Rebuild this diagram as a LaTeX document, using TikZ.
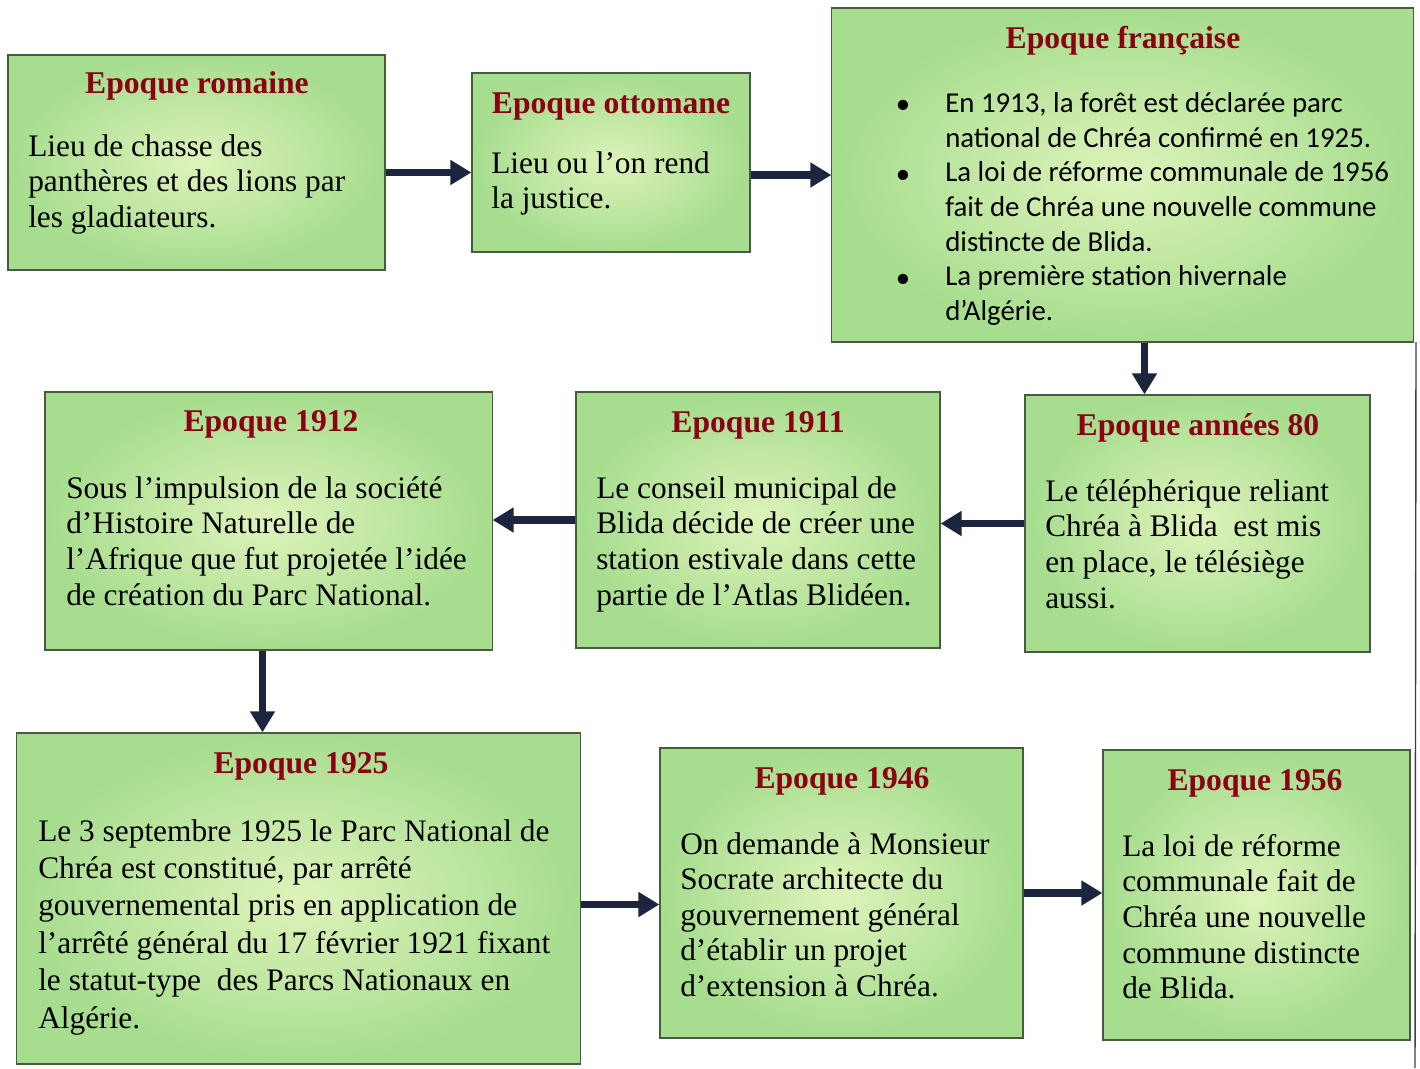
\documentclass[tikz,border=0pt]{standalone}
\usepackage{fontspec}
\setmainfont{Liberation Serif}
\newfontfamily\calibri{Carlito}
\usetikzlibrary{arrows.meta}

\definecolor{vertclair}{RGB}{222,243,186}
\definecolor{vertfonce}{RGB}{166,221,142}
\definecolor{bordure}{RGB}{70,92,60}
\definecolor{titrerouge}{RGB}{140,0,22}
\definecolor{marine}{RGB}{28,36,62}

\tikzset{
  box/.style={rectangle, draw=bordure, line width=0.8pt,
    inner color=vertclair, outer color=vertfonce},
  titre/.style={anchor=base, inner sep=0pt, text=titrerouge,
    font=\bfseries\fontsize{22.5}{26}\selectfont},
  texte/.style={anchor=north west, inner sep=0pt, align=left,
    font=\fontsize{22.3}{25.4}\selectfont},
  fleche/.style={draw=marine, line width=5.5pt,
    -{Triangle[length=15pt,width=17pt]}},
}

\begin{document}
\begin{tikzpicture}[x=0.025cm,y=-0.025cm]

      \useasboundingbox (0,0) rectangle (1420,1068);
      \clip (0,0) rectangle (1420,1068);

      % first row
      \node[box, minimum width=9.425cm, minimum height=5.375cm] (rom) at (196.5,162.5) {};
      \node[titre] (romT) at (197,93) {Epoque romaine};
      \node[texte] (romX) at (28,134) {Lieu de chasse des\\panthères et des lions par\\les gladiateurs.};

      \node[box, minimum width=6.95cm, minimum height=4.475cm] (ott) at (611,162.5) {};
      \node[titre] (ottT) at (611,113) {Epoque ottomane};
      \node[texte] (ottX) at (491,151) {Lieu ou l’on rend\\la justice.};

      \node[box, minimum width=14.525cm, minimum height=8.35cm] (fra) at (1122.5,175) {};
      \node[titre] (fraT) at (1123,48) {Epoque française};
      \node[texte, font=\calibri\fontsize{20.5}{24.7}\selectfont] (fraX) at (945,92)
        {En 1913, la forêt est déclarée parc\\national de Chréa confirmé en 1925.\\La loi de réforme communale de 1956\\fait de Chréa une nouvelle commune\\distincte de Blida.\\La première station hivernale\\d’Algérie.};
      \foreach \y in {113,183,287}
      { \node[anchor=base, inner sep=0pt, font=\calibri\fontsize{20.5}{24.7}\selectfont] (p\y) at (903,\y) {•}; }

      % second row
      \node[box, minimum width=8.625cm, minimum height=6.425cm] (a80) at (1197.5,523.5) {};
      \node[titre] (a80T) at (1198,435) {Epoque années 80};
      \node[texte] (a80X) at (1045,479) {Le téléphérique reliant\\Chréa à Blida\ \ est mis\\en place, le télésiège\\aussi.};

      \node[box, minimum width=9.1cm, minimum height=6.4cm] (e11) at (758,520) {};
      \node[titre] (e11T) at (758,432) {Epoque 1911};
      \node[texte] (e11X) at (596,476) {Le conseil municipal de\\Blida décide de créer une\\station estivale dans cette\\partie de l’Atlas Blidéen.};

      \node[box, minimum width=11.175cm, minimum height=6.45cm] (e12) at (268.5,521) {};
      \node[titre] (e12T) at (271,431) {Epoque 1912};
      \node[texte] (e12X) at (66,476) {Sous l’impulsion de la société\\d’Histoire Naturelle de\\l’Afrique que fut projetée l’idée\\de création du Parc National.};

      % third row
      \node[box, minimum width=14.075cm, minimum height=8.275cm] (e25) at (298.5,898.5) {};
      \node[titre] (e25T) at (301,773) {Epoque 1925};
      \node[texte, font=\fontsize{22.3}{26.6}\selectfont] (e25X) at (38,819)
        {Le 3 septembre 1925 le Parc National de\\Chréa est constitué, par arrêté\\gouvernemental pris en application de\\l’arrêté général du 17 février 1921 fixant\\le statut-type\ \ des Parcs Nationaux en\\Algérie.};

      \node[box, minimum width=9.075cm, minimum height=7.25cm] (e46) at (841.5,893) {};
      \node[titre] (e46T) at (842,788) {Epoque 1946};
      \node[texte, font=\fontsize{22.3}{25.3}\selectfont] (e46X) at (680,832)
        {On demande à Monsieur\\Socrate architecte du\\gouvernement général\\d’établir un projet\\d’extension à Chréa.};

      \node[box, minimum width=7.675cm, minimum height=7.25cm] (e56) at (1256.5,895) {};
      \node[titre] (e56T) at (1255,790) {Epoque 1956};
      \node[texte, font=\fontsize{22.3}{25.3}\selectfont] (e56X) at (1122,834)
        {La loi de réforme\\communale fait de\\Chréa une nouvelle\\commune distincte\\de Blida.};

      % arrows
      \draw[fleche] ([yshift=-0.25cm]rom.east) -- ([yshift=-0.25cm]rom.east -| ott.west);
      \draw[fleche] (ott.east |- fra.west) -- (fra.west);
      \draw[fleche] ([xshift=0.55cm]fra.south) -- ([xshift=0.55cm]fra.south |- a80.north);
      \draw[fleche] (a80.west) -- (a80.west -| e11.east);
      \draw[fleche] (e11.west) -- (e11.west -| e12.east);
      \draw[fleche] ([xshift=-0.15cm]e12.south) -- ([xshift=-0.15cm]e12.south |- e25.north);
      \draw[fleche] ([yshift=-0.15cm]e25.east) -- ([yshift=-0.15cm]e25.east -| e46.west);
      \draw[fleche] (e46.east) -- (e46.east -| e56.west);

      % page edge
      \draw[line width=1pt, black!75] (1416,342) -- (1415,1068);

    \end{tikzpicture}
\end{document}
